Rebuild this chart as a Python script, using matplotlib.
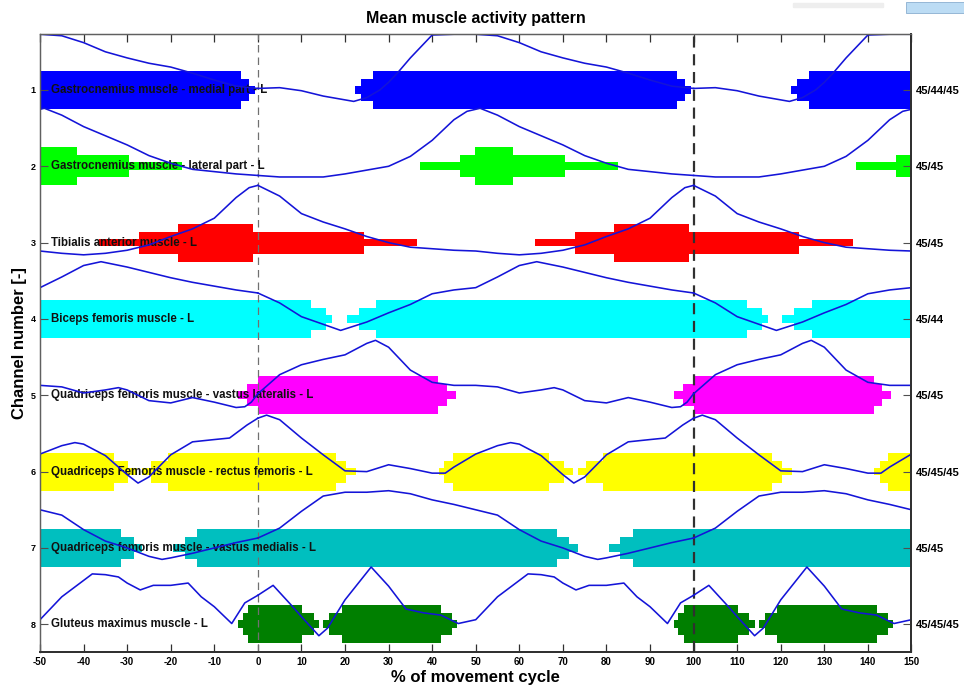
import numpy as np
import matplotlib
matplotlib.use('Agg')
import matplotlib.pyplot as plt

plt.rcParams['font.family'] = ['Liberation Sans', 'DejaVu Sans']
plt.rcParams['axes.unicode_minus'] = False

# channel names, colours of the activity bands and trial counts per channel
muscles = ['Gastrocnemius muscle - medial part - L',
           'Gastrocnemius muscle - lateral part - L',
           'Tibialis anterior muscle - L',
           'Biceps femoris muscle - L',
           'Quadriceps femoris muscle - vastus lateralis - L',
           'Quadriceps Femoris muscle - rectus femoris - L',
           'Quadriceps femoris muscle - vastus medialis - L',
           'Gluteus maximus muscle - L']
band_colors = ['#0000ff', '#00ff00', '#ff0000', '#00ffff',
               '#ff00ff', '#ffff00', '#00bfbf', '#007f00']
trials = ['45/44/45', '45/45', '45/45', '45/44', '45/45', '45/45/45', '45/45', '45/45/45']

# activity segments over one cycle: (start %, end %, level 1..3)
act_1 = [(22.3, 23.7, 1), (23.7, 26.5, 2), (26.5, 96.1, 3), (96.1, 98.0, 2), (98.0, 99.3, 1)]
act_2 = [(37.3, 46.5, 1), (46.5, 49.9, 2), (49.9, 58.5, 3), (58.5, 70.4, 2), (70.4, 82.6, 1)]
act_3 = [(63.6, 72.7, 1), (72.7, 81.7, 2), (81.7, 98.9, 3), (98.9, 124.3, 2), (124.3, 136.5, 1)]
act_4 = [(20.4, 23.1, 1), (23.1, 27.1, 2), (27.1, 112.2, 3), (112.2, 115.7, 2), (115.7, 117.1, 1)]
act_5 = [(95.4, 97.6, 1), (97.6, 100.0, 2), (100.0, 141.4, 3), (141.4, 143.3, 2), (143.3, 145.4, 1)]
act_6 = [(41.5, 42.8, 1), (42.8, 44.7, 2), (44.7, 66.9, 3), (66.9, 70.3, 2), (70.3, 72.3, 1),
         (73.4, 75.4, 1), (75.4, 79.3, 2), (79.3, 118.0, 3), (118.0, 120.3, 2), (120.3, 122.5, 1)]
act_7 = [(80.5, 83.2, 1), (83.2, 86.1, 2), (86.1, 168.6, 3), (168.6, 171.5, 2), (171.5, 173.4, 1)]
act_8 = [(95.5, 96.5, 1), (96.5, 97.8, 2), (97.8, 110.15, 3), (110.15, 112.8, 2), (112.8, 114.1, 1),
         (115.0, 116.4, 1), (116.4, 119.2, 2), (119.2, 142.0, 3), (142.0, 144.6, 2), (144.6, 145.8, 1)]

# mean envelopes over one cycle (% of cycle, offset from channel line)
env_x_1 = [0, 5, 10, 15, 20, 22, 25, 28, 30, 32, 35, 38, 40, 45, 50, 55, 60, 65, 70, 75, 80, 85, 90, 95, 100]
env_y_1 = [-0.02, -0.03, 0.01, 0.08, 0.13, 0.15, 0.10, 0.0, -0.10, -0.22, -0.42, -0.60, -0.72, -0.73, -0.73,
           -0.71, -0.62, -0.50, -0.42, -0.35, -0.30, -0.22, -0.13, -0.05, -0.02]
env_x_2 = [0, 5, 10, 15, 20, 25, 30, 35, 40, 45, 48, 51, 55, 60, 65, 70, 75, 80, 85, 90, 95, 100]
env_y_2 = [0.12, 0.14, 0.14, 0.14, 0.10, 0.05, 0.0, -0.13, -0.34, -0.61, -0.72, -0.76, -0.67, -0.52, -0.40,
           -0.28, -0.14, -0.04, 0.04, 0.07, 0.10, 0.12]
env_x_3 = [0, 5, 10, 15, 20, 25, 30, 35, 40, 45, 50, 55, 60, 65, 70, 75, 80, 85, 90, 95, 98, 100]
env_y_3 = [-0.75, -0.61, -0.38, -0.27, -0.18, -0.08, 0.0, 0.06, 0.08, 0.10, 0.11, 0.14, 0.16, 0.14, 0.10,
           0.03, -0.08, -0.18, -0.32, -0.59, -0.72, -0.75]
env_x_4 = [0, 5, 10, 15, 19, 25, 30, 35, 40, 45, 50, 55, 60, 64, 70, 75, 80, 85, 90, 95, 100]
env_y_4 = [-0.34, -0.21, -0.03, 0.07, 0.15, 0.04, -0.08, -0.19, -0.33, -0.38, -0.41, -0.55, -0.70, -0.75,
           -0.68, -0.61, -0.54, -0.48, -0.43, -0.38, -0.34]
env_x_5 = [0, 5, 10, 15, 20, 25, 27, 30, 35, 40, 45, 50, 55, 60, 65, 68, 70, 75, 80, 85, 90, 95, 97, 98.5, 100]
env_y_5 = [-0.02, -0.27, -0.40, -0.47, -0.53, -0.68, -0.72, -0.63, -0.33, -0.17, -0.13, -0.13, -0.11, -0.03,
           -0.07, -0.10, -0.07, 0.07, 0.10, 0.03, 0.09, 0.16, 0.15, 0.09, -0.02]
env_x_6 = [0, 2, 5, 10, 15, 20, 25, 30, 35, 40, 43, 45, 50, 55, 58, 60, 65, 70, 72.5, 75, 80, 85, 90, 93.5, 97.5, 100]
env_y_6 = [-0.70, -0.74, -0.68, -0.44, -0.22, -0.01, 0.0, -0.09, -0.04, 0.02, 0.02, -0.06, -0.23, -0.34,
           -0.38, -0.36, -0.21, 0.04, 0.15, 0.07, -0.22, -0.39, -0.42, -0.44, -0.61, -0.70]
env_x_7 = [0, 5, 10, 15, 20, 25, 30, 35, 40, 45, 50, 55, 60, 65, 70, 75, 78, 80, 85, 90, 95, 100]
env_y_7 = [-0.13, -0.26, -0.48, -0.68, -0.73, -0.73, -0.75, -0.71, -0.63, -0.57, -0.50, -0.43, -0.24, -0.09,
           0.0, 0.11, 0.15, 0.13, 0.07, 0.0, -0.07, -0.13]
env_x_8 = [0, 3.5, 8, 10, 14, 16, 20, 26, 30, 34, 38, 42, 46, 50, 55, 62, 65, 68, 70, 73, 76, 80, 84, 87, 90, 94, 97, 100]
env_y_8 = [-0.38, -0.51, -0.23, -0.10, 0.15, 0.05, -0.32, -0.75, -0.50, -0.20, -0.15, -0.12, -0.01, -0.06,
           -0.36, -0.66, -0.65, -0.62, -0.54, -0.45, -0.51, -0.51, -0.54, -0.36, -0.23, -0.01, -0.28, -0.38]

activity = [act_1, act_2, act_3, act_4, act_5, act_6, act_7, act_8]
env_x = [env_x_1, env_x_2, env_x_3, env_x_4, env_x_5, env_x_6, env_x_7, env_x_8]
env_y = [env_y_1, env_y_2, env_y_3, env_y_4, env_y_5, env_y_6, env_y_7, env_y_8]

half_height = {1: 0.05, 2: 0.145, 3: 0.25}
shifts = [-200, -100, 0, 100, 200]

fig = plt.figure(figsize=(9.64, 6.91), dpi=100)
ax = fig.add_axes([0.0415, 0.0569, 0.904, 0.894])

for i in range(8):
    ch = i + 1
    for s in shifts:
        for start, end, lev in activity[i]:
            ax.barh(ch, end - start, left=start + s, height=2 * half_height[lev],
                    color=band_colors[i], linewidth=0, zorder=1)
    ax.text(-47.4, ch, muscles[i], ha='left', va='center', fontsize=8.3,
            fontweight='bold', color='#111111', zorder=3)
    x = np.array(env_x[i], dtype=float)
    y = np.array(env_y[i], dtype=float) + ch
    for s in (-100, 0, 100):
        ax.plot(x + s, y, color='#1414d8', lw=1.15, zorder=4)

# heel strikes of the two cycles
ax.axvline(0, color='#707070', lw=0.9, ls=(0, (6, 4)), zorder=2)
ax.axvline(100, color='#303030', lw=1.6, ls=(0, (5, 3)), zorder=2)

ax.set_xlim(-50, 150)
ax.set_ylim(8.359, 0.266)
ax.set_xticks(range(-50, 151, 10))
ax.set_yticks(range(1, 9))
ax.set_yticklabels([str(c) for c in range(1, 9)])
ax.tick_params(axis='x', direction='in', top=True, length=6, width=0.9, color='#303030',
               labelsize=7, pad=4)
ax.tick_params(axis='y', direction='in', length=6, width=0.8, color='#505050',
               labelsize=6.5, pad=3)
for lab in ax.get_xticklabels() + ax.get_yticklabels():
    lab.set_fontweight('bold')

ax2 = ax.twinx()
ax2.set_ylim(8.359, 0.266)
ax2.set_yticks(range(1, 9))
ax2.set_yticklabels(trials, fontsize=8, fontweight='bold')
ax2.tick_params(axis='y', direction='in', length=6, width=0.8, color='#505050', pad=3)

for a in (ax, ax2):
    for side in ('left', 'top'):
        a.spines[side].set_color('#606060')
        a.spines[side].set_linewidth(0.9)
    for side in ('right', 'bottom'):
        a.spines[side].set_color('#303030')
        a.spines[side].set_linewidth(1.3)

ax.set_title('Mean muscle activity pattern', fontsize=11.5, fontweight='bold', pad=8)
ax.set_xlabel('% of movement cycle', fontsize=12, fontweight='bold', labelpad=2)
ax.set_ylabel('Channel number [-]', fontsize=12, fontweight='bold', labelpad=3)

# window toolbar remnants in the top right corner
fig.patches.append(plt.Rectangle((793 / 964, 1 - 7 / 691), 90 / 964, 4 / 691,
                                 transform=fig.transFigure, color='#eeeeee', zorder=0))
fig.patches.append(plt.Rectangle((906 / 964, 1 - 13 / 691), 58 / 964, 11 / 691,
                                 transform=fig.transFigure, facecolor='#bcdcf4',
                                 edgecolor='#8aaed0', lw=0.6, zorder=0))

fig.savefig('out.png', dpi=100)
